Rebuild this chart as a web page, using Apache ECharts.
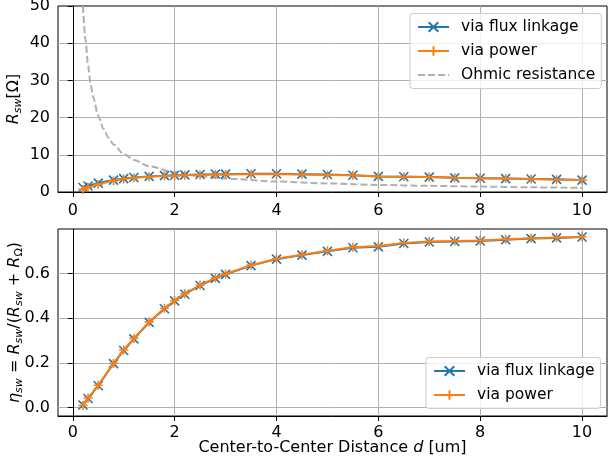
<!DOCTYPE html>
<html>
<head>
<meta charset="utf-8">
<script src="https://cdn.jsdelivr.net/npm/echarts@6/dist/echarts.min.js"></script>
<style>
  html, body { margin: 0; padding: 0; background: #fff; }
  #chart { width: 608px; height: 461px; }
</style>
</head>
<body>
<div id="chart"></div>
<script>
// center-to-center distance [um]
const dist = [0.2, 0.3, 0.5, 0.8, 1.0, 1.2, 1.5, 1.8, 2.0, 2.2, 2.5, 2.8, 3.0, 3.5, 4.0,
  4.5, 5.0, 5.5, 6.0, 6.5, 7.0, 7.5, 8.0, 8.5, 9.0, 9.5, 10.0];

// R_sw [Ohm]
const rFlux = [1.2, 1.6, 2.4, 3.2, 3.6, 3.9, 4.2, 4.4, 4.5, 4.6, 4.7, 4.8, 4.8, 4.9, 4.9,
  4.8, 4.7, 4.5, 4.2, 4.1, 4.0, 3.8, 3.7, 3.6, 3.5, 3.4, 3.2];
const rPower = [0.7, 1.3, 2.1, 3.0, 3.5, 3.8, 4.1, 4.3, 4.4, 4.5, 4.6, 4.7, 4.7, 4.8, 4.8,
  4.7, 4.6, 4.5, 4.2, 4.1, 4.0, 3.8, 3.7, 3.6, 3.5, 3.3, 3.2];

// ohmic resistance (own sampling)
const ohmDist = [0.2, 0.25, 0.3, 0.35, 0.4, 0.5, 0.6, 0.7, 0.8, 1.0, 1.2, 1.5, 2.0, 2.5,
  3.0, 4.0, 5.0, 6.0, 7.0, 8.0, 9.0, 10.0];
const rOhm = [50, 41, 34, 29, 25.5, 20.5, 17, 14.6, 12.8, 10.2, 8.6, 6.9, 5.3, 4.2,
  3.6, 2.8, 2.3, 1.9, 1.65, 1.45, 1.25, 1.1];

// eta_sw
const etaFlux = [0.012, 0.041, 0.098, 0.197, 0.256, 0.308, 0.382, 0.443, 0.478, 0.508,
  0.547, 0.579, 0.597, 0.636, 0.665, 0.683, 0.700, 0.716, 0.720, 0.735, 0.742, 0.744,
  0.746, 0.752, 0.757, 0.760, 0.764];
const etaPower = [0.010, 0.043, 0.100, 0.198, 0.258, 0.310, 0.384, 0.445, 0.480, 0.510,
  0.549, 0.581, 0.599, 0.638, 0.667, 0.685, 0.703, 0.718, 0.724, 0.737, 0.744, 0.746,
  0.749, 0.754, 0.759, 0.762, 0.765];

const xTicks = [0, 2, 4, 6, 8, 10];
const etaTicks = [0, 0.2, 0.4, 0.6];

const BLUE = '#1f77b4';
const ORANGE = '#ff7f0e';
const GRAY = '#b0b0b0';
const FONT = 'DejaVu Sans';
const TICK_FS = 16;
const NAME_FS = 16;
const LEG_FS = 15.5;

const zip = (xs, ys) => xs.map((x, i) => [x, ys[i]]);

const crossSym = 'path://M0,0L10,10M10,0L0,10';
const plusSym = 'path://M5,0L5,10M0,5L10,5';

function xAxisFor(gridIndex, withName, labelMargin) {
  return {
    type: 'value', gridIndex: gridIndex, min: -0.29, max: 10.49,
    axisLine: { show: true, onZero: false, lineStyle: { color: '#000', width: 1 } },
    axisTick: { show: true, length: 5, customValues: xTicks, lineStyle: { color: '#000' } },
    axisLabel: { customValues: xTicks, margin: labelMargin, color: '#000', fontSize: TICK_FS, fontFamily: FONT },
    splitLine: { show: true, customValues: xTicks, lineStyle: { color: GRAY, width: 1 } },
    name: withName ? '{n|Center-to-Center Distance }{i|d}{n| [um]}' : '',
    nameLocation: 'middle', nameGap: 24, nameMoveOverlap: false,
    nameTextStyle: {
      color: '#000',
      rich: {
        n: { fontSize: NAME_FS, fontFamily: FONT, color: '#000' },
        i: { fontSize: NAME_FS, fontFamily: FONT, fontStyle: 'italic', color: '#000' }
      }
    }
  };
}

const nameRich = {
  n: { fontSize: NAME_FS, fontFamily: FONT, color: '#000' },
  i: { fontSize: NAME_FS, fontFamily: FONT, fontStyle: 'italic', color: '#000' },
  s: { fontSize: 11, fontFamily: FONT, fontStyle: 'italic', color: '#000', padding: [9, 0, 0, 0] },
  so: { fontSize: 11, fontFamily: FONT, color: '#000', padding: [9, 0, 0, 0] }
};

function lineSeries(name, xi, yi, xs, ys, color, sym, z) {
  return {
    name: name, type: 'line', xAxisIndex: xi, yAxisIndex: yi,
    data: zip(xs, ys), z: z,
    symbol: sym, symbolSize: 9, showAllSymbol: true,
    lineStyle: { color: color, width: 2 },
    itemStyle: { color: color, borderColor: color, borderWidth: 1.6 },
    animation: false
  };
}

const legendBase = {
  orient: 'vertical',
  backgroundColor: 'rgba(255,255,255,0.8)',
  borderColor: '#cccccc', borderWidth: 1, borderRadius: 3,
  padding: [5.5, 6, 5.5, 7],
  itemWidth: 31, itemHeight: 12, itemGap: 8,
  textStyle: { fontSize: LEG_FS, fontFamily: FONT, color: '#000', lineHeight: 16, padding: [0, 0, 0, 7] },
  selectedMode: false
};

const gridBase = { left: 58, width: 549, show: true, borderColor: '#000', borderWidth: 1, outerBoundsMode: 'none' };

const chart = echarts.init(document.getElementById('chart'));
chart.setOption({
  animation: false,
  textStyle: { fontFamily: FONT },
  grid: [
    Object.assign({}, gridBase, { top: 6, height: 186 }),
    Object.assign({}, gridBase, { top: 229, height: 187 })
  ],
  xAxis: [xAxisFor(0, false, 11), xAxisFor(1, true, 9)],
  yAxis: [
    {
      type: 'value', gridIndex: 0, min: 0, max: 50, interval: 10,
      axisLine: { show: true, lineStyle: { color: '#000' } },
      axisTick: { show: true, length: 5, lineStyle: { color: '#000' } },
      axisLabel: { margin: 8, color: '#000', fontSize: TICK_FS, fontFamily: FONT },
      splitLine: { show: true, showMinLine: false, showMaxLine: false, lineStyle: { color: GRAY, width: 1 } },
      name: '{i|R}{s|sw}{n|[Ω]}', nameLocation: 'middle', nameRotate: 90, nameGap: 34,
      nameMoveOverlap: false,
      nameTextStyle: { rich: nameRich }
    },
    {
      type: 'value', gridIndex: 1, min: -0.0375, max: 0.8,
      axisLine: { show: true, lineStyle: { color: '#000' } },
      axisTick: { show: true, length: 5, customValues: etaTicks, lineStyle: { color: '#000' } },
      axisLabel: {
        customValues: etaTicks, margin: 8, color: '#000', fontSize: TICK_FS, fontFamily: FONT,
        formatter: v => v.toFixed(1)
      },
      splitLine: { show: true, customValues: etaTicks, lineStyle: { color: GRAY, width: 1 } },
      name: '{i|η}{s|sw}{n| = }{i|R}{s|sw}{n|/(}{i|R}{s|sw}{n| + }{i|R}{so|Ω}{n|)}',
      nameLocation: 'middle', nameRotate: 90, nameGap: 33,
      nameMoveOverlap: false,
      nameTextStyle: { rich: nameRich }
    }
  ],
  legend: [
    Object.assign({}, legendBase, {
      left: 410, top: 13.5,
      data: ['via flux linkage', 'via power',
        { name: 'Ohmic resistance', itemStyle: { opacity: 0 } }]
    }),
    Object.assign({}, legendBase, {
      left: 426, top: 357.5,
      data: ['via flux linkage', 'via power']
    })
  ],
  series: [
    {
      name: 'Ohmic resistance', type: 'line', xAxisIndex: 0, yAxisIndex: 0,
      data: zip(ohmDist, rOhm), smooth: 0.3, smoothMonotone: 'x',
      symbol: 'none', z: 2, clip: true,
      lineStyle: { color: GRAY, width: 2, type: [7, 3] },
      itemStyle: { color: GRAY }
    },
    lineSeries('via flux linkage', 0, 0, dist, rFlux, BLUE, crossSym, 3),
    lineSeries('via power', 0, 0, dist, rPower, ORANGE, plusSym, 4),
    lineSeries('via flux linkage', 1, 1, dist, etaFlux, BLUE, crossSym, 3),
    lineSeries('via power', 1, 1, dist, etaPower, ORANGE, plusSym, 4)
  ]
});
</script>
</body>
</html>
